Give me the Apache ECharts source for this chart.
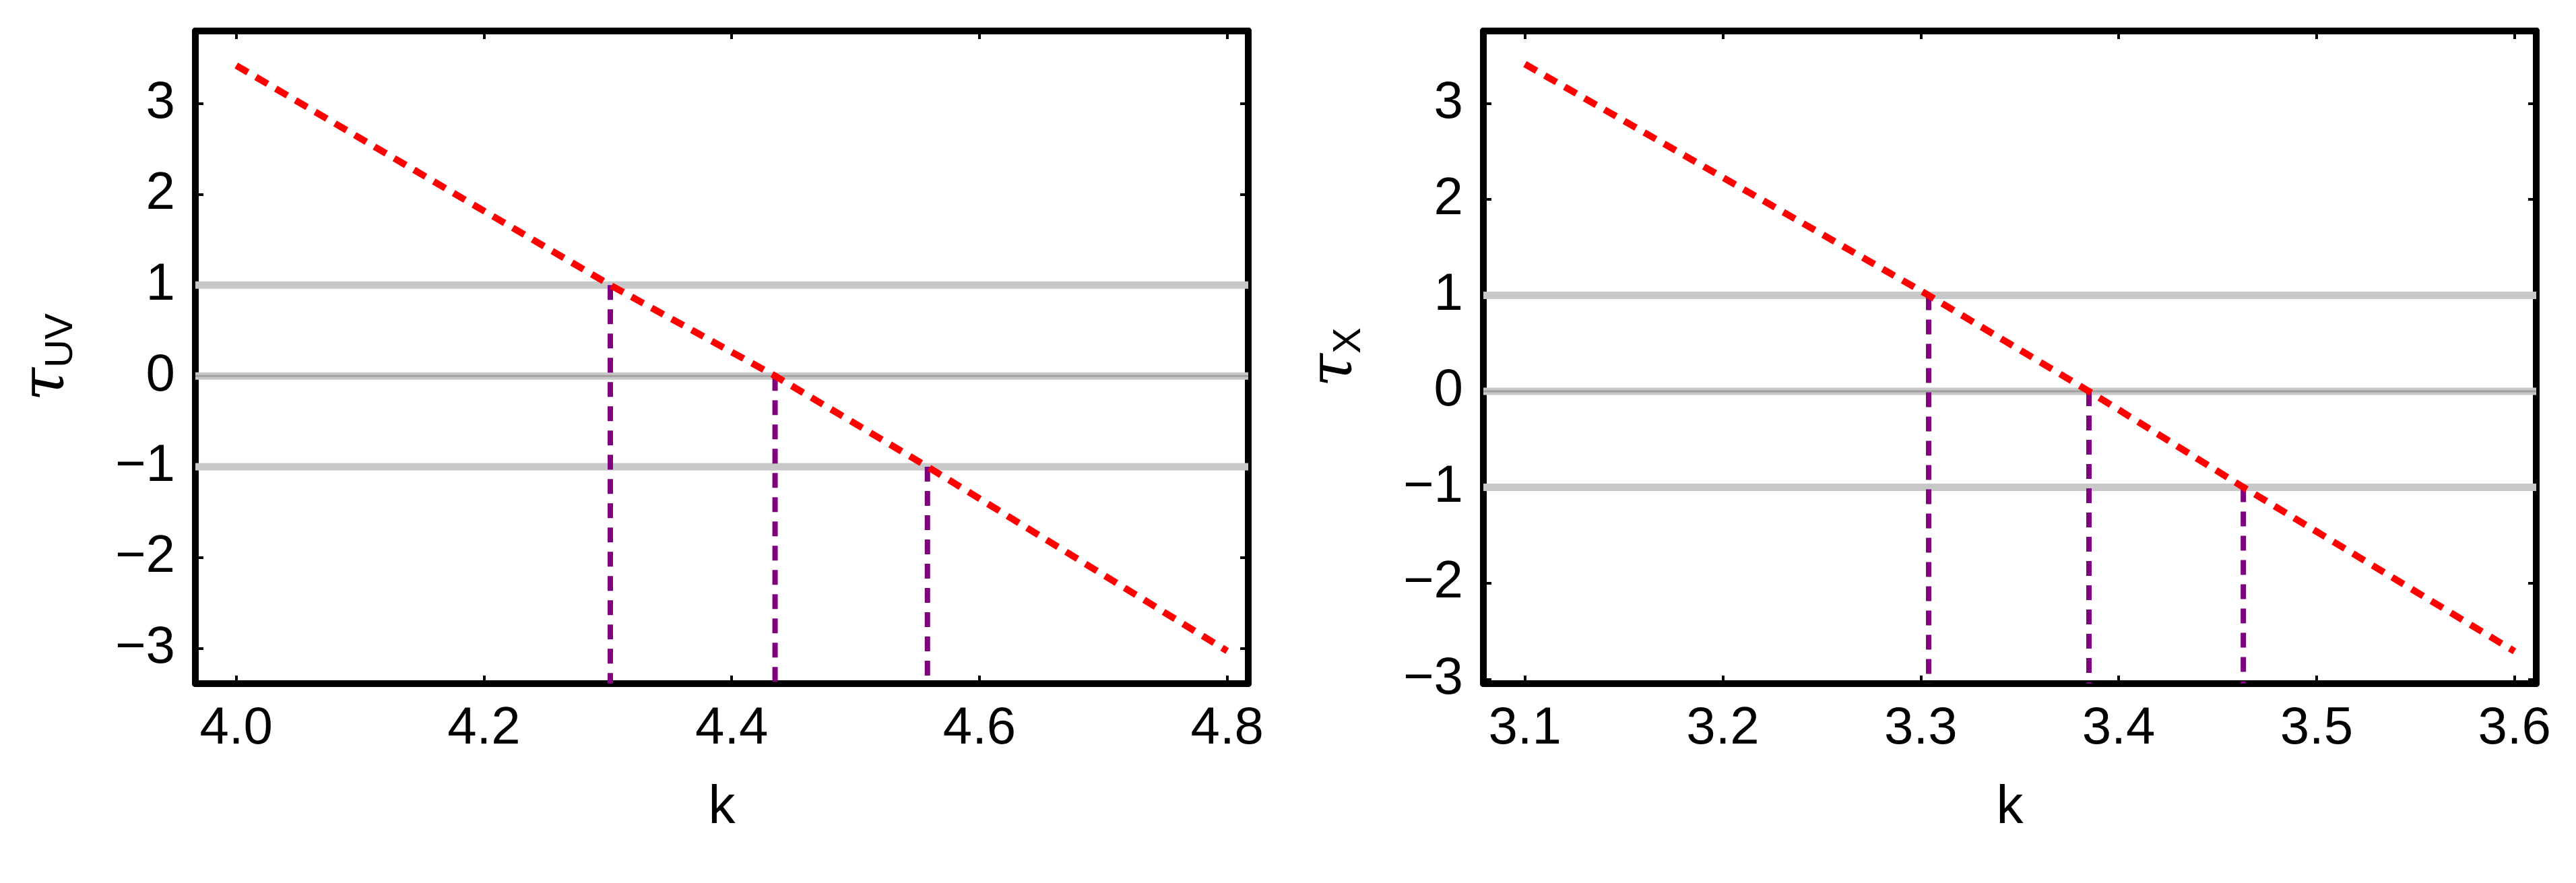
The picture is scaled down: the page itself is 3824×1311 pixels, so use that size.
<!DOCTYPE html>
<html><head><meta charset="utf-8">
<script src="https://cdn.jsdelivr.net/npm/echarts@6/dist/echarts.min.js"></script>
<style>html,body{margin:0;padding:0;background:#fff}#c{width:3824px;height:1311px}</style>
</head><body><div id="c"></div>
<script>
// Left panel (tau_UV)
const leftX = [4.0, 4.302, 4.435, 4.558, 4.8];
const leftY = [3.42, 1, 0, -1, -3.03];
const leftCross = [4.302, 4.435, 4.558];
const leftTicks = [4.0, 4.2, 4.4, 4.6, 4.8];
// Right panel (tau_X)
const rightX = [3.1, 3.304, 3.385, 3.463, 3.6];
const rightY = [3.41, 1, 0, -1, -2.71];
const rightCross = [3.304, 3.385, 3.463];
const rightTicks = [3.1, 3.2, 3.3, 3.4, 3.5, 3.6];
const levels = [1, 0, -1];
const yTicks = [-3, -2, -1, 0, 1, 2, 3];

const FONT = '"Liberation Sans Narrow", "Liberation Sans", Arial, sans-serif';
const chart = echarts.init(document.getElementById('c'));
const grids = [
  {left: 290, right: 1971, top: 46, bottom: 296},
  {left: 2202, right: 59, top: 46, bottom: 296}
];
const xr = [[3.967, 4.817, 0.2, 1], [3.079, 3.611, 0.1, 1]];
const yr = [[-3.39, 3.80], [-3.047, 3.755]];
const xAxes = [], yAxes = [], series = [];
function tickSet(v, d){ return v.toFixed(d); }
[0,1].forEach(i => {
  const ticks = i === 0 ? leftTicks : rightTicks;
  const base = {gridIndex: i, type: 'value', min: xr[i][0], max: xr[i][1],
    splitLine: {show: false},
    axisLine: {show: true, onZero: false, lineStyle: {color: '#000', width: 10}},
    axisTick: {show: true, inside: true, length: 12, lineStyle: {color: '#000', width: 4},
      customValues: ticks},
    axisLabel: {customValues: ticks, fontSize: 78, fontFamily: FONT, color: '#000', margin: 28,
      formatter: v => v.toFixed(1)}};
  xAxes.push(Object.assign({}, base, {position: 'bottom', name: 'k', nameLocation: 'middle', nameGap: 145,
    nameTextStyle: {fontSize: 80, fontFamily: FONT, color: '#000'}}));
  xAxes.push(Object.assign({}, base, {position: 'top', axisLabel: {show: false}}));
  const yb = {gridIndex: i, type: 'value', min: yr[i][0], max: yr[i][1],
    splitLine: {show: false},
    axisLine: {show: true, onZero: false, lineStyle: {color: '#000', width: 10}},
    axisTick: {show: true, inside: true, length: 12, lineStyle: {color: '#000', width: 4}, customValues: yTicks},
    axisLabel: {customValues: yTicks, fontSize: 78, fontFamily: FONT, color: '#000', margin: 30,
      formatter: v => v < 0 ? '\u2212' + Math.abs(v) : String(v)}};
  yAxes.push(Object.assign({}, yb, {position: 'left',
    name: i === 0 ? '{t|τ}{s|UV}' : '{t|τ}{s|X}', nameLocation: 'middle', nameGap: 170, nameRotate: 90,
    nameTextStyle: {rich: {t: {fontSize: 90, fontFamily: 'DejaVu Serif', fontStyle: 'italic', color: '#000'},
      s: {fontSize: 58, fontFamily: FONT, color: '#000', verticalAlign: 'bottom', padding: [40,0,0,0]}}}}));
  yAxes.push(Object.assign({}, yb, {position: 'right', axisLabel: {show: false}}));
});
[0,1].forEach(i => {
  const xs = i === 0 ? leftX : rightX, ys = i === 0 ? leftY : rightY;
  const cr = i === 0 ? leftCross : rightCross;
  levels.forEach(l => {
    series.push({type: 'line', xAxisIndex: 2*i, yAxisIndex: 2*i, symbol: 'none', silent: true,
      data: [[xr[i][0], l], [xr[i][1], l]], lineStyle: {color: '#c8c8c8', width: 11}, z: 1});
    if (l === 0) series.push({type: 'line', xAxisIndex: 2*i, yAxisIndex: 2*i, symbol: 'none', silent: true,
      data: [[xr[i][0], l], [xr[i][1], l]], lineStyle: {color: '#a0a0a0', width: 3}, z: 2});
  });
  cr.forEach((c, j) => {
    series.push({type: 'line', xAxisIndex: 2*i, yAxisIndex: 2*i, symbol: 'none', silent: true,
      data: [[c, levels[j]], [c, yr[i][0]]], lineStyle: {color: '#800080', width: 8, type: [22, 14]}, z: 3});
  });
  series.push({type: 'line', xAxisIndex: 2*i, yAxisIndex: 2*i, symbol: 'none', silent: true,
    data: xs.map((x, k) => [x, ys[k]]), lineStyle: {color: '#ff0000', width: 10, type: [20, 14]}, z: 4});
});
chart.setOption({animation: false, grid: grids, xAxis: xAxes, yAxis: yAxes, series: series});
</script></body></html>
